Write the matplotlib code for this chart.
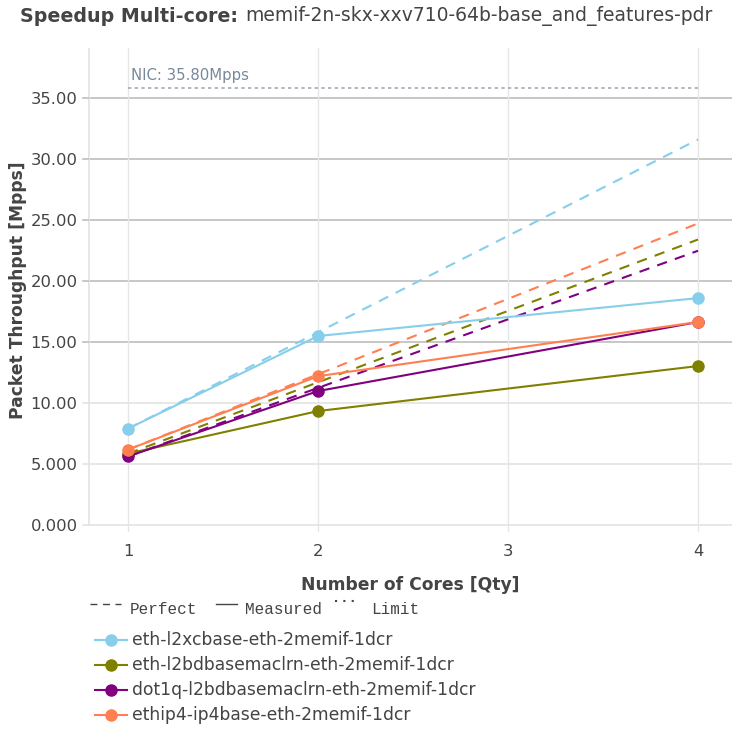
import numpy as np
import matplotlib.pyplot as plt
from matplotlib.lines import Line2D

plt.rcParams['font.family'] = ['DejaVu Sans']

cores = [1, 2, 4]
names = ["eth-l2xcbase-eth-2memif-1dcr",
         "eth-l2bdbasemaclrn-eth-2memif-1dcr",
         "dot1q-l2bdbasemaclrn-eth-2memif-1dcr",
         "ethip4-ip4base-eth-2memif-1dcr"]
colors = ["#87ceeb", "#808000", "#800080", "#ff7f50"]
measured = [[7.9, 15.49, 18.6],
            [5.85, 9.34, 13.03],
            [5.62, 10.98, 16.64],
            [6.18, 12.2, 16.64]]
nic_limit = 35.8
yticks = [0, 5, 10, 15, 20, 25, 30, 35]
ytick_labels = ["0.000", "5.000", "10.00", "15.00", "20.00", "25.00", "30.00", "35.00"]

W, H = 732, 733
fig = plt.figure(figsize=(7.32, 7.33), dpi=100)
ax = fig.add_axes([88 / W, 1 - 532 / H, 644 / W, 484 / H])

for y in yticks:
    gc = "#bdbdbd" if y >= 15 else "#e3e3e3"
    ax.axhline(y, color=gc, lw=1.2, zorder=0)
    ax.plot([-0.008, 0], [y, y], color=gc, lw=1.2, transform=ax.get_yaxis_transform(), clip_on=False)
for x in [1, 2, 3, 4]:
    ax.axvline(x, color="#e6e6e6", lw=1, zorder=0)
ax.axvline(0.789 + 0.003, ymin=0.574 / 39.674, ymax=1, color="#e3e3e3", lw=1.2, zorder=0)

for name, c, vals in zip(names, colors, measured):
    perfect = [vals[0] * n for n in cores]
    ax.plot(cores, perfect, color=c, lw=1.5, ls=(0, (5, 4)), zorder=2)
    ax.plot(cores, vals, color=c, lw=1.5, marker="o", markersize=8, zorder=3)

ax.plot([1, 4], [nic_limit, nic_limit], color="#a0aab8", lw=1.2, ls=(0, (2, 2)), zorder=2)
ax.text(1.015, nic_limit + 0.4, "NIC: 35.80Mpps", color="#778899", fontsize=10.7, va="bottom", ha="left")

ax.set_xlim(0.789, 4.179)
ax.set_ylim(-0.574, 39.1)
ax.set_xticks([1, 2, 3, 4])
ax.set_yticks(yticks)
ax.set_yticklabels(ytick_labels)
ax.tick_params(length=0, labelsize=11.8, colors="#444444")
ax.tick_params(axis="y", pad=7.5)
ax.tick_params(axis="x", pad=9)
for s in ax.spines.values():
    s.set_visible(False)
ax.set_xlabel("Number of Cores [Qty]", fontsize=12.3, fontweight="bold", color="#444444", labelpad=12)
ax.set_ylabel("Packet Throughput [Mpps]", fontsize=12.3, fontweight="bold", color="#444444")
ax.yaxis.set_label_coords(-0.109, 0.5)
ax.yaxis.label.set_va("center")

fig.text(20 / W, 1 - 16 / H, "Speedup Multi-core:", fontsize=13.7, fontweight="bold", color="#444444", va="center")
fig.text(245 / W, 1 - 16 / H, "memif-2n-skx-xxv710-64b-base_and_features-pdr", fontsize=13.5, color="#444444", va="center")

# line-style legend row
ly = 1 - 609 / H
ld = 1 - 604 / H
fig.add_artist(Line2D([90 / W, 121 / W], [ld, ld], color="#444444", lw=1, ls=(0, (5, 4))))
fig.text(130 / W, ly, "Perfect", family="Liberation Mono", fontsize=11.5, color="#444444", va="center")
fig.add_artist(Line2D([216 / W, 237 / W], [ld, ld], color="#444444", lw=1))
fig.text(245 / W, ly, "Measured", family="Liberation Mono", fontsize=11.5, color="#444444", va="center")
fig.add_artist(Line2D([335 / W, 358 / W], [1 - 601 / H, 1 - 601 / H], color="#444444", lw=1.5, ls=(0, (1, 3))))
fig.text(371 / W, ly, "Limit", family="Liberation Mono", fontsize=11.5, color="#444444", va="center")

for i, (name, c) in enumerate(zip(names, colors)):
    yy = 1 - (640 + 25 * i) / H
    fig.add_artist(Line2D([95 / W, 127 / W], [yy, yy], color=c, lw=1.5))
    fig.add_artist(Line2D([111 / W], [yy], color=c, marker="o", markersize=8))
    fig.text(132 / W, yy, name, fontsize=12.3, color="#444444", va="center")

fig.savefig("out.png", dpi=100)
